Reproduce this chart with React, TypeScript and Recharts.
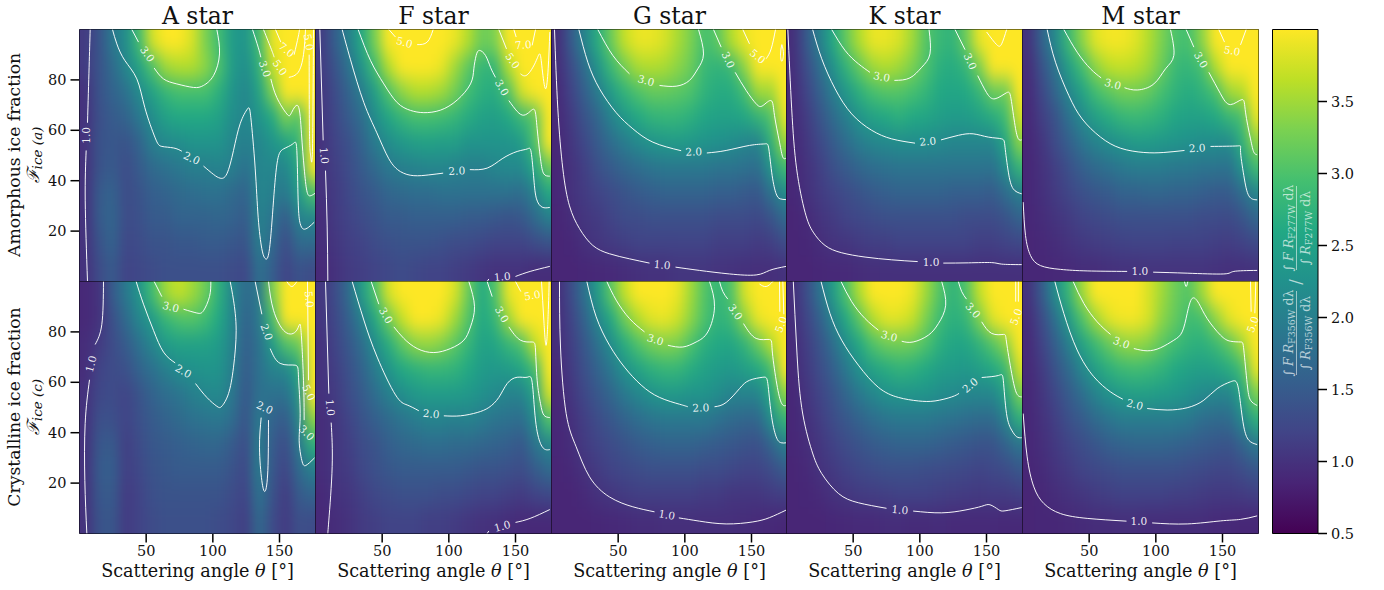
import { ReferenceArea, Scatter, ScatterChart, XAxis, YAxis } from "recharts";

// heat grid centres
const thetaCenters = [5, 15, 25, 35, 45, 55, 65, 75, 85, 95, 105, 115, 125, 135, 145, 155, 165, 175];
const fractionCenters = [95, 85, 75, 65, 55, 45, 35, 25, 15, 5];
const xTicks = [50, 100, 150];
const yTicks = [20, 40, 60, 80];
const cbarTicks = [0.5, 1, 1.5, 2, 2.5, 3, 3.5];
const starNames = ["A star", "F star", "G star", "K star", "M star"];

const heatA1 = [
  [1.1, 1.4, 1.9, 2.2, 2.9, 3.8, 4, 4, 3.8, 3.3, 2.9, 2.4, 2.3, 2.9, 3.9, 4, 4, 4],
  [1.1, 1.4, 1.7, 2.1, 2.5, 3.0, 3.5, 3.6, 3.6, 3.4, 3.0, 2.4, 2.2, 2.7, 3.7, 4, 4, 4],
  [1.0, 1.4, 1.6, 1.8, 2.15, 2.5, 2.8, 2.95, 2.95, 2.95, 2.7, 2.3, 2.1, 2.5, 3.3, 4, 4, 4],
  [1.0, 1.35, 1.5, 1.6, 1.9, 2.2, 2.5, 2.6, 2.6, 2.6, 2.5, 2.2, 2.1, 2.3, 2.6, 3.3, 3.0, 4],
  [1.0, 1.4, 1.45, 1.4, 1.6, 2.0, 2.15, 2.2, 2.3, 2.3, 2.3, 2.1, 2.0, 2.1, 2.3, 2.5, 2.8, 4],
  [1.0, 1.4, 1.5, 1.3, 1.5, 1.7, 1.8, 1.9, 2.0, 2.0, 2.05, 2.0, 1.8, 2.1, 2.1, 2.1, 2.6, 4],
  [1.0, 1.5, 1.6, 1.3, 1.4, 1.55, 1.6, 1.7, 1.75, 1.8, 1.8, 1.7, 1.6, 2.1, 2.0, 1.9, 2.4, 3.0],
  [1.0, 1.5, 1.65, 1.3, 1.35, 1.5, 1.5, 1.6, 1.6, 1.6, 1.65, 1.6, 1.5, 2.05, 1.85, 1.5, 2.05, 2.1],
  [1.0, 1.4, 1.6, 1.25, 1.3, 1.4, 1.4, 1.45, 1.45, 1.5, 1.5, 1.45, 1.4, 2.0, 1.7, 1.3, 1.7, 1.7],
  [1.0, 1.3, 1.5, 1.2, 1.25, 1.3, 1.35, 1.35, 1.35, 1.35, 1.35, 1.3, 1.25, 1.8, 1.55, 1.2, 1.4, 1.3],
];
const heatF1 = [
  [1.1, 1.55, 2.0, 2.6, 3.3, 4, 4, 4, 4, 4, 3.9, 3.6, 3.2, 3.3, 4, 4, 4, 4],
  [1.1, 1.4, 1.8, 2.3, 2.9, 3.6, 4, 4, 4, 3.9, 3.5, 3.1, 2.8, 2.8, 3.6, 4, 4, 4],
  [1.05, 1.3, 1.6, 1.95, 2.45, 3.0, 3.4, 3.6, 3.6, 3.5, 3.25, 2.9, 2.7, 2.65, 3.0, 3.8, 4, 4],
  [1.05, 1.25, 1.5, 1.75, 2.2, 2.55, 2.8, 2.95, 2.95, 2.9, 2.8, 2.65, 2.5, 2.45, 2.6, 2.85, 3.1, 4],
  [1.0, 1.2, 1.35, 1.6, 1.95, 2.2, 2.35, 2.45, 2.5, 2.45, 2.45, 2.3, 2.3, 2.3, 2.3, 2.4, 3.0, 4],
  [1.0, 1.15, 1.3, 1.5, 1.7, 1.9, 2.0, 2.05, 2.1, 2.1, 2.05, 2.0, 2.0, 2.1, 2.15, 2.15, 2.6, 3.2],
  [1.0, 1.1, 1.25, 1.4, 1.5, 1.65, 1.7, 1.75, 1.75, 1.8, 1.8, 1.8, 1.8, 1.8, 1.8, 1.75, 2.05, 2.6],
  [0.95, 1.1, 1.2, 1.3, 1.4, 1.5, 1.5, 1.55, 1.55, 1.55, 1.55, 1.5, 1.5, 1.45, 1.4, 1.45, 1.7, 2.0],
  [0.95, 1.05, 1.15, 1.2, 1.3, 1.35, 1.4, 1.4, 1.4, 1.35, 1.3, 1.3, 1.25, 1.2, 1.2, 1.2, 1.3, 1.4],
  [0.9, 1.0, 1.1, 1.15, 1.2, 1.25, 1.3, 1.25, 1.2, 1.2, 1.15, 1.1, 1.05, 1.0, 1.0, 1.0, 0.95, 0.95],
];
const heatG1 = [
  [0.95, 1.5, 2.05, 2.65, 3.2, 3.7, 3.9, 3.9, 3.8, 3.55, 3.3, 2.95, 3.1, 3.6, 3.9, 4, 4, 4],
  [0.95, 1.3, 1.75, 2.3, 2.85, 3.25, 3.55, 3.6, 3.55, 3.4, 3.2, 2.85, 2.75, 2.85, 3.4, 4, 4, 4],
  [0.9, 1.2, 1.55, 1.95, 2.4, 2.75, 3.0, 3.15, 3.15, 3.1, 3.0, 2.75, 2.65, 2.65, 2.9, 3.5, 3.5, 4],
  [0.9, 1.1, 1.4, 1.65, 2.05, 2.35, 2.6, 2.75, 2.8, 2.8, 2.7, 2.55, 2.5, 2.5, 2.55, 2.75, 3.0, 3.9],
  [0.88, 1.05, 1.25, 1.5, 1.75, 1.95, 2.15, 2.3, 2.35, 2.4, 2.35, 2.3, 2.25, 2.2, 2.1, 2.05, 2.7, 3.5],
  [0.88, 1.0, 1.15, 1.35, 1.5, 1.65, 1.75, 1.85, 1.9, 1.9, 1.9, 1.9, 1.85, 1.85, 1.8, 1.75, 2.3, 2.9],
  [0.88, 1.0, 1.1, 1.2, 1.3, 1.4, 1.5, 1.55, 1.6, 1.6, 1.6, 1.6, 1.55, 1.55, 1.5, 1.45, 1.8, 2.2],
  [0.87, 0.95, 1.05, 1.1, 1.2, 1.3, 1.3, 1.35, 1.35, 1.35, 1.35, 1.35, 1.3, 1.3, 1.3, 1.25, 1.4, 1.7],
  [0.87, 0.88, 0.98, 1.05, 1.1, 1.15, 1.2, 1.2, 1.2, 1.2, 1.2, 1.2, 1.15, 1.15, 1.15, 1.1, 1.15, 1.3],
  [0.87, 0.87, 0.88, 0.9, 0.92, 0.95, 0.98, 1.0, 1.0, 1.05, 1.05, 1.05, 1.02, 1.0, 0.98, 0.97, 0.97, 1.0],
];
const heatK1 = [
  [0.95, 1.45, 2.0, 2.6, 3.15, 3.6, 3.9, 3.9, 3.8, 3.5, 3.05, 2.85, 2.75, 3.2, 3.9, 4, 4, 4],
  [0.95, 1.3, 1.75, 2.25, 2.75, 3.15, 3.5, 3.6, 3.5, 3.3, 3.0, 2.7, 2.65, 2.8, 3.3, 4, 4, 4],
  [0.92, 1.2, 1.55, 1.95, 2.35, 2.7, 2.95, 3.05, 3.05, 2.95, 2.8, 2.6, 2.55, 2.6, 2.8, 3.2, 3.2, 4],
  [0.9, 1.1, 1.4, 1.7, 2.0, 2.3, 2.5, 2.6, 2.7, 2.6, 2.55, 2.45, 2.4, 2.4, 2.5, 2.65, 2.9, 3.8],
  [0.88, 1.05, 1.25, 1.5, 1.75, 1.95, 2.1, 2.15, 2.2, 2.2, 2.2, 2.15, 2.1, 2.1, 2.1, 2.1, 2.6, 3.4],
  [0.88, 1.0, 1.15, 1.35, 1.5, 1.65, 1.75, 1.8, 1.85, 1.85, 1.85, 1.85, 1.85, 1.85, 1.85, 1.8, 2.2, 2.8],
  [0.88, 0.98, 1.1, 1.2, 1.3, 1.4, 1.5, 1.55, 1.6, 1.6, 1.6, 1.6, 1.55, 1.55, 1.55, 1.5, 1.75, 2.0],
  [0.87, 0.92, 1.02, 1.1, 1.2, 1.25, 1.3, 1.35, 1.35, 1.35, 1.35, 1.35, 1.35, 1.3, 1.3, 1.3, 1.4, 1.6],
  [0.87, 0.88, 0.95, 1.02, 1.05, 1.1, 1.15, 1.15, 1.2, 1.2, 1.2, 1.2, 1.2, 1.2, 1.15, 1.15, 1.2, 1.25],
  [0.87, 0.87, 0.88, 0.9, 0.92, 0.95, 0.97, 0.98, 0.98, 0.98, 0.98, 0.98, 0.98, 0.98, 0.98, 0.98, 0.98, 0.98],
];
const heatM1 = [
  [1.0, 1.6, 2.15, 2.85, 3.4, 3.85, 3.95, 3.95, 3.85, 3.6, 3.3, 3.0, 2.95, 3.4, 4, 4, 4, 4],
  [0.95, 1.4, 1.85, 2.45, 2.9, 3.4, 3.65, 3.7, 3.65, 3.5, 3.2, 2.85, 2.8, 2.95, 3.6, 4, 4, 4],
  [0.92, 1.25, 1.65, 2.1, 2.5, 2.9, 3.1, 3.25, 3.25, 3.15, 2.95, 2.75, 2.65, 2.75, 2.95, 3.5, 3.6, 4],
  [0.9, 1.15, 1.4, 1.8, 2.15, 2.45, 2.65, 2.8, 2.85, 2.8, 2.7, 2.55, 2.5, 2.5, 2.6, 2.8, 2.95, 3.9],
  [0.88, 1.05, 1.3, 1.55, 1.85, 2.05, 2.2, 2.3, 2.4, 2.4, 2.35, 2.3, 2.25, 2.2, 2.2, 2.15, 2.7, 3.4],
  [0.88, 1.0, 1.15, 1.35, 1.55, 1.7, 1.8, 1.9, 1.95, 1.95, 1.95, 1.9, 1.9, 1.85, 1.85, 1.8, 2.25, 2.9],
  [0.88, 0.98, 1.1, 1.22, 1.35, 1.45, 1.5, 1.6, 1.6, 1.65, 1.65, 1.6, 1.6, 1.55, 1.5, 1.5, 1.75, 2.1],
  [0.88, 0.95, 1.03, 1.1, 1.2, 1.25, 1.3, 1.35, 1.35, 1.35, 1.35, 1.35, 1.35, 1.3, 1.3, 1.28, 1.4, 1.65],
  [0.87, 0.9, 0.95, 1.02, 1.08, 1.12, 1.15, 1.18, 1.2, 1.2, 1.2, 1.18, 1.18, 1.18, 1.15, 1.12, 1.18, 1.28],
  [0.88, 0.88, 0.9, 0.92, 0.95, 0.95, 0.98, 1.0, 1.0, 1.02, 1.02, 1.02, 1.02, 1.02, 1.0, 0.98, 0.98, 1.0],
];
const heatA2 = [
  [0.9, 1.0, 1.5, 1.9, 2.3, 2.9, 3.5, 3.7, 3.5, 3.2, 2.7, 2.1, 1.7, 1.9, 3.3, 4, 4, 4],
  [0.9, 1.0, 1.35, 1.7, 2.1, 2.4, 2.8, 3.0, 3.05, 2.9, 2.6, 2.1, 1.6, 1.9, 2.9, 4, 4, 4],
  [0.95, 1.1, 1.3, 1.5, 1.8, 2.1, 2.4, 2.5, 2.5, 2.5, 2.4, 2.05, 1.55, 1.8, 2.4, 3.0, 3.2, 4],
  [0.95, 1.2, 1.3, 1.35, 1.6, 1.8, 2.0, 2.2, 2.25, 2.3, 2.3, 2.0, 1.5, 1.8, 2.05, 2.1, 2.6, 4],
  [1.0, 1.25, 1.3, 1.2, 1.4, 1.6, 1.75, 1.85, 2.0, 2.1, 2.15, 1.9, 1.45, 1.8, 1.8, 1.8, 2.3, 4],
  [1.0, 1.35, 1.35, 1.2, 1.35, 1.5, 1.6, 1.7, 1.8, 1.85, 1.9, 1.75, 1.4, 1.95, 1.6, 1.5, 2.1, 3.4],
  [1.0, 1.45, 1.5, 1.15, 1.3, 1.45, 1.5, 1.55, 1.6, 1.65, 1.65, 1.5, 1.3, 2.0, 1.5, 1.3, 1.9, 2.7],
  [1.0, 1.5, 1.55, 1.15, 1.25, 1.4, 1.45, 1.5, 1.5, 1.5, 1.5, 1.4, 1.25, 2.0, 1.45, 1.2, 1.7, 2.0],
  [1.0, 1.45, 1.5, 1.1, 1.2, 1.35, 1.4, 1.4, 1.4, 1.4, 1.4, 1.3, 1.2, 1.85, 1.4, 1.1, 1.5, 1.6],
  [1.0, 1.4, 1.45, 1.1, 1.2, 1.3, 1.35, 1.35, 1.35, 1.35, 1.3, 1.25, 1.15, 1.7, 1.3, 1.1, 1.35, 1.3],
];
const heatF2 = [
  [1.05, 1.3, 1.7, 2.4, 3.0, 3.8, 4, 4, 4, 4, 3.8, 3.2, 2.6, 3.0, 3.9, 4, 4, 4],
  [1.05, 1.25, 1.55, 2.0, 2.6, 3.2, 3.7, 4, 4, 3.9, 3.5, 3.05, 2.6, 2.8, 3.5, 4, 4, 4],
  [1.0, 1.2, 1.45, 1.75, 2.2, 2.65, 3.1, 3.4, 3.45, 3.35, 3.1, 2.8, 2.5, 2.55, 2.8, 3.0, 3.7, 4],
  [1.0, 1.15, 1.35, 1.6, 1.95, 2.3, 2.6, 2.7, 2.8, 2.8, 2.75, 2.6, 2.4, 2.35, 2.4, 2.55, 2.9, 4],
  [1.0, 1.1, 1.3, 1.5, 1.75, 2.0, 2.2, 2.35, 2.4, 2.4, 2.4, 2.35, 2.25, 2.15, 2.05, 2.05, 2.5, 3.8],
  [0.95, 1.05, 1.2, 1.4, 1.55, 1.7, 1.85, 1.95, 2.05, 2.05, 2.0, 2.05, 1.95, 1.85, 1.8, 1.75, 2.2, 3.0],
  [0.95, 1.05, 1.15, 1.3, 1.4, 1.55, 1.65, 1.7, 1.75, 1.75, 1.7, 1.7, 1.65, 1.6, 1.55, 1.45, 1.85, 2.1],
  [0.95, 1.05, 1.1, 1.25, 1.35, 1.45, 1.5, 1.5, 1.5, 1.5, 1.5, 1.45, 1.4, 1.4, 1.35, 1.3, 1.5, 1.7],
  [0.9, 1.0, 1.05, 1.15, 1.25, 1.3, 1.35, 1.35, 1.35, 1.3, 1.3, 1.25, 1.2, 1.2, 1.15, 1.1, 1.2, 1.25],
  [0.9, 0.95, 1.0, 1.1, 1.15, 1.2, 1.2, 1.2, 1.15, 1.15, 1.1, 1.05, 1.0, 0.98, 0.95, 0.92, 0.9, 0.9],
];
const heatG2 = [
  [0.95, 1.3, 1.8, 2.4, 3.1, 3.7, 4, 4, 4, 3.9, 3.5, 3.05, 2.8, 3.0, 3.8, 4, 4, 4],
  [0.95, 1.2, 1.6, 2.1, 2.6, 3.2, 3.6, 3.85, 3.9, 3.75, 3.4, 3.0, 2.75, 2.85, 3.4, 3.9, 4, 4],
  [0.95, 1.15, 1.45, 1.8, 2.2, 2.65, 3.0, 3.25, 3.35, 3.3, 3.0, 2.7, 2.6, 2.55, 2.75, 3.15, 3.6, 4],
  [0.9, 1.1, 1.35, 1.6, 1.9, 2.25, 2.5, 2.7, 2.8, 2.8, 2.65, 2.5, 2.4, 2.35, 2.45, 2.6, 2.9, 4],
  [0.88, 1.05, 1.25, 1.45, 1.65, 1.9, 2.1, 2.25, 2.35, 2.35, 2.3, 2.3, 2.2, 2.05, 2.05, 2.05, 2.6, 3.4],
  [0.88, 0.98, 1.15, 1.3, 1.45, 1.6, 1.75, 1.85, 1.9, 1.9, 1.9, 1.9, 1.8, 1.7, 1.65, 1.65, 2.2, 2.8],
  [0.88, 0.95, 1.1, 1.2, 1.3, 1.4, 1.5, 1.55, 1.6, 1.6, 1.6, 1.55, 1.5, 1.45, 1.4, 1.35, 1.6, 2.0],
  [0.87, 0.9, 1.0, 1.1, 1.2, 1.25, 1.3, 1.35, 1.35, 1.35, 1.35, 1.3, 1.3, 1.25, 1.2, 1.2, 1.3, 1.5],
  [0.87, 0.87, 0.92, 1.0, 1.05, 1.1, 1.15, 1.15, 1.15, 1.15, 1.15, 1.1, 1.1, 1.05, 1.05, 1.05, 1.1, 1.15],
  [0.87, 0.87, 0.87, 0.88, 0.9, 0.92, 0.95, 0.95, 0.97, 0.97, 0.97, 0.97, 0.97, 0.97, 0.95, 0.92, 0.9, 0.88],
];
const heatK2 = [
  [0.95, 1.3, 1.8, 2.4, 3.0, 3.6, 4, 4, 4, 3.9, 3.5, 3.05, 2.75, 3.0, 3.7, 4, 4, 4],
  [0.95, 1.2, 1.55, 2.05, 2.6, 3.1, 3.6, 3.85, 3.85, 3.7, 3.3, 2.9, 2.7, 2.8, 3.3, 3.85, 4, 4],
  [0.92, 1.12, 1.4, 1.75, 2.2, 2.6, 3.0, 3.2, 3.25, 3.2, 3.0, 2.7, 2.55, 2.55, 2.75, 3.05, 3.4, 4],
  [0.9, 1.08, 1.3, 1.55, 1.9, 2.25, 2.5, 2.65, 2.75, 2.7, 2.6, 2.45, 2.4, 2.35, 2.45, 2.6, 2.85, 3.8],
  [0.88, 1.02, 1.2, 1.4, 1.65, 1.9, 2.1, 2.25, 2.3, 2.3, 2.3, 2.2, 2.15, 2.1, 2.1, 2.1, 2.5, 3.3],
  [0.88, 0.98, 1.12, 1.3, 1.45, 1.6, 1.75, 1.85, 1.9, 1.9, 1.9, 1.85, 1.8, 1.75, 1.7, 1.7, 2.05, 2.7],
  [0.88, 0.95, 1.05, 1.18, 1.3, 1.4, 1.5, 1.55, 1.6, 1.6, 1.6, 1.55, 1.5, 1.45, 1.4, 1.4, 1.6, 1.85],
  [0.87, 0.9, 1.0, 1.08, 1.18, 1.25, 1.3, 1.35, 1.35, 1.35, 1.32, 1.3, 1.28, 1.25, 1.2, 1.25, 1.3, 1.45],
  [0.87, 0.88, 0.92, 1.0, 1.05, 1.1, 1.12, 1.15, 1.18, 1.18, 1.18, 1.15, 1.12, 1.1, 1.08, 1.1, 1.1, 1.15],
  [0.87, 0.87, 0.87, 0.88, 0.9, 0.92, 0.92, 0.95, 0.95, 0.93, 0.93, 0.95, 0.92, 0.92, 0.92, 0.92, 0.9, 0.9],
];
const heatM2 = [
  [1.0, 1.5, 2.2, 2.8, 3.5, 4, 4, 4, 4, 3.8, 3.5, 3.2, 3.05, 3.5, 4, 4, 4, 4],
  [0.95, 1.3, 1.8, 2.4, 3.0, 3.5, 3.85, 3.95, 3.95, 3.8, 3.4, 3.15, 2.9, 2.95, 3.4, 3.85, 4, 4],
  [0.92, 1.2, 1.55, 2.0, 2.5, 2.85, 3.15, 3.4, 3.45, 3.35, 3.1, 2.9, 2.75, 2.7, 2.85, 3.1, 3.5, 4],
  [0.9, 1.1, 1.4, 1.7, 2.1, 2.45, 2.7, 2.85, 2.9, 2.85, 2.75, 2.6, 2.5, 2.45, 2.5, 2.65, 2.9, 3.9],
  [0.88, 1.05, 1.25, 1.5, 1.75, 2.05, 2.25, 2.4, 2.45, 2.45, 2.4, 2.35, 2.25, 2.15, 2.1, 2.05, 2.55, 3.3],
  [0.88, 1.0, 1.15, 1.35, 1.5, 1.7, 1.85, 1.95, 1.95, 1.95, 1.95, 1.95, 1.9, 1.75, 1.7, 1.7, 2.1, 2.7],
  [0.88, 0.97, 1.08, 1.2, 1.32, 1.42, 1.55, 1.6, 1.65, 1.65, 1.65, 1.6, 1.55, 1.5, 1.45, 1.4, 1.6, 1.9],
  [0.87, 0.93, 1.02, 1.1, 1.2, 1.25, 1.3, 1.35, 1.35, 1.35, 1.35, 1.35, 1.3, 1.28, 1.22, 1.22, 1.3, 1.45],
  [0.87, 0.89, 0.95, 1.0, 1.05, 1.1, 1.15, 1.18, 1.18, 1.18, 1.18, 1.15, 1.15, 1.1, 1.08, 1.08, 1.1, 1.15],
  [0.87, 0.88, 0.88, 0.9, 0.93, 0.95, 0.95, 0.97, 0.97, 0.95, 0.95, 0.95, 0.95, 0.95, 0.92, 0.9, 0.88, 0.88],
];

// contour pieces as [theta, fraction], broken where a label sits
const linesA1 = [
  [[8, 100], [7.2, 85], [6, 63]],
  [[5, 52], [4.3, 32], [6, 0]],
  [[24.75, 100], [28, 94.3], [34, 87.7], [43, 80.4], [49, 69], [56.75, 57], [61.75, 53.6], [70.5, 53], [76.75, 51.7]],
  [[93, 45.8], [100.5, 42.5], [105.5, 41], [110.5, 42.7], [115.5, 52], [120.5, 62.6], [126, 68.5], [128.5, 65], [131.75, 45], [134, 25.5], [136.75, 13], [139.5, 9], [142.5, 13], [145.5, 32], [148.5, 48], [153, 52.6], [160, 54.6], [163, 52], [164, 32], [165.5, 23], [168, 20.8], [171.75, 21.5], [176, 23.5]],
  [[39.25, 100], [44.25, 95]],
  [[56, 84.7], [63, 80.4], [73, 78.4], [85.5, 77], [93, 77.8], [100.5, 81.7], [105, 90.3], [103, 100]],
  [[129.75, 100], [134, 93], [136, 89]],
  [[143.5, 80.4], [148, 73], [155.5, 66.5], [159, 67], [164, 69.6], [166.5, 58.6], [168.5, 45], [170.5, 36], [173, 34], [176.7, 35]],
  [[138, 100], [144, 92], [146, 89]],
  [[157, 81], [164, 83], [168, 90], [169.5, 100]],
  [[147, 100], [151, 95]],
  [[161, 90], [164, 97], [165, 100]],
  [[172.25, 90], [172.5, 58.6], [173.5, 49.3], [174.75, 53], [175.5, 100]],
];
const labelsA1 = [[4.75, 58, "1.0", -90], [84.25, 49, "2.0", 25], [51, 90.3, "3.0", 55], [139.25, 84.4, "3.0", 70], [150.5, 85, "5.0", 55], [155.5, 92, "7.0", 40], [172, 95, "5.0", 80]];

const linesF1 = [
  [[3.25, 100], [5.75, 56]],
  [[7.5, 44], [8.75, 22], [9.25, 0]],
  [[128.75, 0], [130, 1]],
  [[150, 2], [161, 4], [175.75, 6]],
  [[20, 100], [26.25, 88], [36.25, 71], [46, 59], [55, 48.7], [63.75, 43.6], [73.75, 42], [85, 42.3], [95.75, 43]],
  [[115.75, 44.4], [128.75, 45], [140, 48.7], [151.25, 51.6], [158.75, 52.6], [161.75, 51.3], [163.75, 40.7], [165.75, 32.8], [170, 29.5], [175.75, 29.4]],
  [[32, 100], [41.25, 87.7], [51.25, 78.4], [61.25, 71], [71.25, 67.9], [81.25, 67], [93.75, 68], [106.25, 72], [116.25, 78.4], [118.75, 84.4], [120.5, 89.7], [123, 91.7], [127.5, 89.7], [131.25, 85], [135, 81]],
  [[145, 71.8], [151.25, 67.5], [156.25, 66], [161, 67.5], [164.5, 67.9], [166.25, 60.6], [168.75, 48.7], [171.25, 42.7], [175.75, 41.8]],
  [[55, 100], [60, 97]],
  [[76.25, 94], [83.75, 95], [88.25, 100]],
  [[137.5, 100], [143.25, 92.3]],
  [[153.75, 82.4], [158.75, 82], [165, 87], [168.25, 90.3], [170, 84.4], [172.5, 76.5], [174.5, 84.4], [175.75, 99]],
  [[148.75, 100], [150.5, 97]],
  [[162.5, 93.7], [165, 100]],
];
const labelsF1 = [[6.75, 50, "1.0", 85], [140, 2, "1.0", -5], [106, 44, "2.0", -2], [140, 77, "3.0", 60], [66.75, 95, "5.0", 15], [148, 87.7, "5.0", 55], [155.75, 94, "7.0", -5]];

const linesG1 = [
  [[2.25, 100], [4.75, 68.5], [8.5, 44.7], [13.5, 30], [21, 21], [31, 14.3], [43.5, 11], [58.5, 9], [73.5, 7.3]],
  [[93, 5.7], [111, 4.4], [133.5, 3], [153.5, 2.6], [163.5, 4.4], [176, 6]],
  [[20.5, 100], [27.25, 87], [36, 76.5], [48.5, 67], [61, 60.6], [76, 55.3], [97.25, 51.9]],
  [[116.5, 51], [131, 52], [148.5, 54], [159.75, 54.6], [163, 52.6], [165.5, 42], [168.5, 34.8], [171.5, 32.8], [176, 32.5]],
  [[34.75, 100], [46, 89.7], [58.5, 82.4]],
  [[81, 77.8], [93.5, 77.5], [103.5, 79.8], [109.75, 84.4], [114, 90.3], [110.25, 100]],
  [[121.5, 100], [127.25, 93]],
  [[137.75, 83], [146, 75.8], [153.5, 70.5], [158.5, 69.8], [164.75, 71.8], [167.25, 65.9], [171, 55.3], [173.5, 49.3], [176, 49]],
  [[143.5, 100], [148.5, 94.3]],
  [[161, 88.4], [164.75, 92.3], [168, 100]],
  [[172.75, 94], [171.75, 90.3], [172.75, 87.4], [174, 90.3], [172.75, 94]],
];
const labelsG1 = [[83, 6.7, "1.0", 5], [106.75, 51.6, "2.0", -2], [71, 79.8, "3.0", 15], [132.75, 88, "3.0", 65], [154.75, 89.4, "5.0", 40]];

const linesK1 = [
  [[1, 100], [3.9, 68.5], [7.6, 44.7], [13.9, 27.5], [20, 19.6], [28.9, 14.3], [41.4, 11.4], [58.9, 9.7], [78.9, 8.6], [98.4, 7.9]],
  [[117.6, 7.3], [136.4, 7.4], [153.9, 7.5], [161.4, 6.9], [176.4, 6.7]],
  [[19.6, 100], [26.4, 88.4], [36.4, 76.5], [48.9, 66.5], [63.9, 60], [78.9, 56.6], [96.4, 54.9]],
  [[115.9, 56.2], [128.9, 58], [140, 58.6], [151.4, 57.3], [161.4, 56.6], [163.9, 53.3], [166.4, 43.4], [170, 36.8], [176.4, 34.8]],
  [[33.9, 100], [43.9, 91.7], [53.9, 86.4], [62.6, 83]],
  [[80.9, 79.8], [92.6, 80.8], [101.4, 85], [107.6, 90.3], [106.9, 100]],
  [[126.4, 100], [133.9, 92]],
  [[143.4, 81.7], [150, 75], [156.4, 72.5], [165, 74.9], [168.4, 72.5], [171.4, 61.9], [173.9, 56.6], [176.4, 56.2]],
  [[150.1, 99], [157.6, 94], [161.4, 94.3], [165.1, 100]],
];
const labelsK1 = [[108.4, 7.9, "1.0", 0], [105.9, 55.7, "2.0", -5], [71.4, 81.3, "3.0", 10], [138, 87.4, "3.0", 65]];

const linesM1 = [
  [[0.5, 31.5], [2.25, 18.3], [6, 10.3], [13.5, 6.3], [28.5, 4.8], [48.5, 4.2], [78.5, 4]],
  [[98, 3.7], [123.5, 3.3], [151, 3], [158.5, 4], [176, 4.4]],
  [[18.5, 100], [24.75, 87], [34.75, 73.8], [44.75, 64.5], [58.5, 57.3], [73.5, 52.9], [91, 51.2], [106, 51.2], [121.5, 52]],
  [[141, 53.6], [161, 53.8], [163.5, 52], [166, 42], [169.75, 34], [176, 32.4]],
  [[31, 100], [41, 91], [51, 84.4], [59, 80.8]],
  [[76.5, 76.9], [86, 76], [98.5, 78.4], [107.25, 84.4], [113.5, 89.7], [111, 100]],
  [[122.75, 100], [128.5, 93]],
  [[139.75, 83], [148.5, 74.5], [156, 70.2], [164.75, 72.2], [167.25, 67.2], [171, 56.6], [173.5, 51.3], [176, 50.3]],
  [[147.25, 100], [151.5, 95]],
  [[163.5, 93.9], [167.75, 100]],
];
const labelsM1 = [[88, 4, "1.0", 0], [131, 53, "2.0", -3], [67.75, 78.4, "3.0", 15], [134, 88, "3.0", 60], [157.25, 91.7, "5.0", 10]];

const linesA2 = [
  [[18, 100], [16.75, 83], [11.75, 75]],
  [[7.5, 61], [4.25, 43.7], [4, 21], [5.5, 0]],
  [[42.5, 100], [48, 91], [55.5, 80.6], [63, 72], [71.75, 67.7]],
  [[87, 59.5], [95.5, 54], [103, 50.5], [106.75, 50.5], [111.75, 55.5], [115.5, 66], [117.5, 80.6], [115.5, 92.6], [113, 100]],
  [[56, 100], [61.75, 94]],
  [[78, 89], [88, 87.5], [93, 88.4], [97.5, 94], [98.5, 100]],
  [[131.75, 100], [136.75, 87]],
  [[143, 73.4], [150.5, 67.5], [161.75, 66.8], [164.25, 62], [165.5, 47.6], [164.75, 37], [166.75, 29], [169.75, 27], [176.25, 30]],
  [[136.25, 46], [135, 34], [136.75, 21], [139.25, 16.8], [141.25, 25], [141.75, 45]],
  [[141.75, 100], [145.5, 88.6], [154.25, 80], [163, 80.7], [166, 81.3], [168, 60.8], [168.5, 45]],
  [[155.5, 100], [159.25, 98], [163, 100]],
  [[171, 100], [171.75, 60.8]],
];
const labelsA2 = [[8.5, 67.3, "1.0", -75], [78, 64.5, "2.0", 30], [68.5, 90, "3.0", 15], [140.5, 80, "2.0", 70], [139, 50, "2.0", 25], [170.5, 40, "3.0", 45], [172, 56, "5.0", 65], [172.5, 93, "5.0", 85]];

const linesF2 = [
  [[7.5, 100], [10, 55.5]],
  [[11.75, 44], [12.5, 26.5], [10, 5.3], [9.25, 0]],
  [[128.75, 0], [130, 1]],
  [[150, 4.4], [161, 6], [175.75, 9.5]],
  [[27.5, 100], [36.25, 84.7], [46.25, 70], [60, 55], [68.75, 51], [77.5, 48.7]],
  [[96.25, 46.7], [108.75, 46.7], [121.25, 48], [130, 50], [137.5, 54], [143.75, 59.5], [151.25, 62], [158.75, 62], [162.5, 60], [165, 45], [168.75, 35.7], [172.5, 33.3], [175.75, 33.3]],
  [[41.75, 100], [47.5, 91]],
  [[58.75, 82], [66.25, 77.4], [76.25, 73.4], [88.75, 71.8], [101.25, 73.4], [111.25, 76.7], [116.25, 82], [119.25, 90], [115, 100]],
  [[128.75, 100], [132.5, 94]],
  [[145, 82], [153.75, 76.7], [162.5, 76], [165, 72.8], [166.25, 60.8], [168.75, 51.6], [171.25, 47], [175.75, 46]],
  [[150, 100], [154, 96]],
  [[169.5, 100], [171.25, 84.7], [173, 74.7], [174.5, 87], [175.25, 100]],
];
const labelsF2 = [[11.25, 50, "1.0", 85], [140, 3, "1.0", -15], [86.75, 47.6, "2.0", 5], [53, 86.6, "3.0", 60], [140, 87, "3.0", 60], [162.5, 94.6, "5.0", -10]];

const linesG2 = [
  [[6, 100], [6.75, 74], [11, 47.6], [18.5, 34.4], [28.5, 22.5], [43.5, 14.5], [61, 10.6], [77.25, 8.6]],
  [[95.5, 6.2], [111, 4.9], [131, 3.8], [151, 4.6], [163.5, 6.3], [176, 9.3]],
  [[26.5, 100], [33.5, 86], [43.5, 74.7], [54.75, 66], [67.25, 58.9], [81, 54], [96, 51.3], [102.25, 50.3]],
  [[122.25, 50.3], [131, 52], [141, 57.5], [148.5, 60.8], [158.5, 62], [162.25, 59.5], [164.75, 47.6], [168.5, 38.4], [172.25, 36], [176, 36]],
  [[41.5, 100], [48.5, 92.6], [58.5, 85.3], [69.75, 80]],
  [[87.25, 74.7], [98.5, 74], [108.5, 76], [117.25, 80], [122.25, 90], [118.5, 100]],
  [[126, 100], [128.5, 96], [132.25, 93]],
  [[144, 83.3], [153.5, 77.4], [163.5, 77], [165.5, 72.8], [168.5, 60.8], [172.25, 52], [176, 50.8]],
  [[156, 99], [161, 98], [166, 100]],
  [[171, 100], [171.25, 88]],
  [[173.5, 100], [174.25, 87]],
];
const labelsG2 = [[86.5, 7.5, "1.0", 10], [112, 50, "2.0", -2], [78, 77, "3.0", 18], [138, 88, "3.0", 55], [172, 83, "5.0", -70]];

const linesK2 = [
  [[5.1, 100], [7.6, 74], [11.4, 50], [18.9, 33], [26.4, 23.8], [38.9, 15.9], [53.9, 12.2], [75, 10]],
  [[95, 8.9], [116.4, 8.2], [133.9, 9.3], [146.4, 10.8], [152.6, 11.4], [158.9, 9.5], [163.9, 9], [176.4, 10.3]],
  [[25.9, 100], [32.6, 87.3], [41.4, 76.7], [53.9, 66.8], [68.9, 58], [83.9, 54], [98.9, 52.6], [111.4, 52.6], [123.9, 54.2], [129.4, 55.6]],
  [[146.4, 61.9], [158.9, 62.7], [162.6, 60.8], [165, 47.6], [168.9, 41], [172.6, 38.4], [176.4, 38]],
  [[40.9, 100], [48.9, 92], [58.9, 85.3], [68.9, 80.7]],
  [[86.4, 76.3], [95, 76], [106.4, 78.7], [113.9, 83.3], [119.4, 90.6], [116.4, 100]],
  [[128.9, 100], [131.4, 96], [135, 93]],
  [[146.4, 84], [153.9, 79.4], [162.6, 79], [165, 76], [168.9, 63.5], [172.6, 55.6], [176.4, 54.2]],
  [[171.9, 100], [171.9, 92]],
  [[173.9, 100], [173.9, 92]],
];
const labelsK2 = [[85, 9.5, "1.0", 5], [137.6, 58.9, "2.0", -40], [77.1, 78.4, "3.0", 15], [140, 88.6, "3.0", 50], [172, 86, "5.0", -70]];

const linesM2 = [
  [[0.5, 47.6], [3.5, 30.4], [8.5, 18.5], [16, 11.9], [28.5, 7.9], [48.5, 6], [78, 4.9]],
  [[97.25, 4.2], [123.5, 3.8], [148.5, 5], [163.5, 5.6], [176, 7]],
  [[24.25, 100], [31, 87.3], [41, 72.8], [53.5, 62.2], [66, 56.2], [75.25, 53.3]],
  [[93.5, 49.6], [108.5, 49], [123.5, 49.9], [136, 52.9], [146, 57.5], [156, 60.2], [161, 59.5], [163.5, 51.6], [166, 42.3], [169.75, 37], [176, 35.3]],
  [[38, 100], [46, 91.3], [56, 84], [66, 79]],
  [[83.5, 73.4], [93.5, 72.5], [103.5, 73.7], [113.5, 76.7], [119.75, 80], [123.5, 87.3], [127.25, 93.3], [132.25, 91.3], [138.5, 85.3], [148.5, 78.7], [156, 76.3], [163.5, 76], [166, 72.8], [168.5, 59.5], [171, 52.9], [176, 50.8]],
  [[121.5, 100], [122.75, 98], [124, 100]],
  [[171, 100], [171.5, 88]],
  [[174.25, 87.4], [175, 100]],
];
const labelsM2 = [[87.25, 4.9, "1.0", 0], [84.25, 51.3, "2.0", 15], [74.25, 75.8, "3.0", 20], [172.5, 83, "5.0", -70]];

const viridis = ["#440154", "#482475", "#414487", "#355f8d", "#2a788e", "#21918c", "#22a884", "#44bf70", "#7ad151", "#bddf26", "#fde725"];
const SERIF = "'DejaVu Serif', serif";
const plotLefts = [79.5, 315.5, 551.5, 786.5, 1022.5];
const plotTops = [29.5, 281.5];

const hexRgb = (h: string) => [1, 3, 5].map((i) => parseInt(h.slice(i, i + 2), 16));

const colorOf = (v: number) => {
  const t = Math.min(1, Math.max(0, (v - 0.5) / 3.5)) * (viridis.length - 1);
  const i = Math.min(viridis.length - 2, Math.floor(t));
  const a = hexRgb(viridis[i]);
  const b = hexRgb(viridis[i + 1]);
  const c = a.map((p, k) => Math.round(p + (b[k] - p) * (t - i)));
  return `rgb(${c[0]},${c[1]},${c[2]})`;
};

const toCells = (grid: number[][]) =>
  grid.flatMap((row, r) => row.map((v, c) => ({ x: thetaCenters[c], y: fractionCenters[r], v })));

const HeatCell = (props: any) => {
  const { cx, cy, payload } = props;
  const hw = 6.67 + 0.6;
  const hh = 12.6 + 0.6;
  // border cells run past the frame so the blur does not fade at the edge
  const left = payload.x === 5 ? cx - 40 : cx - hw;
  const right = payload.x === 175 ? cx + 40 : cx + hw;
  const top = payload.y === 95 ? cy - 50 : cy - hh;
  const bottom = payload.y === 5 ? cy + 50 : cy + hh;
  return <rect x={left} y={top} width={right - left} height={bottom - top} fill={colorOf(payload.v)} />;
};

const ContourLabel = (props: any) => {
  const { cx, cy, payload } = props;
  return (
    <text
      x={cx}
      y={cy}
      transform={`rotate(${payload.angle} ${cx} ${cy})`}
      textAnchor="middle"
      dominantBaseline="central"
      fontFamily={SERIF}
      fontSize={10.5}
      fill="#fff"
      fillOpacity={0.92}
    >
      {payload.text}
    </text>
  );
};

const NoDot = () => <g />;

const Panel = ({ heat, lines, labels, col, row }: any) => {
  const yw = col === 0 ? 50 : 0;
  const xh = row === 1 ? 30 : 0;
  const pad = 1.5;
  return (
    <div style={{ position: "absolute", left: plotLefts[col] - pad - yw, top: plotTops[row] - pad }}>
      <ScatterChart
        width={236 + yw + pad * 2}
        height={252 + xh + pad * 2}
        margin={{ top: pad, right: pad, bottom: pad, left: pad }}
      >
        <XAxis
          type="number"
          dataKey="x"
          domain={[0, 177]}
          ticks={xTicks}
          allowDataOverflow
          hide={row === 0}
          height={xh}
          axisLine={false}
          tickSize={9}
          tickMargin={3}
          tickLine={{ stroke: "#000", strokeWidth: 1.5 }}
          tick={{ fontFamily: SERIF, fontSize: 14.5, fill: "#111" }}
        />
        <YAxis
          type="number"
          dataKey="y"
          domain={[0, 100]}
          ticks={yTicks}
          allowDataOverflow
          hide={col !== 0}
          width={yw}
          axisLine={false}
          tickSize={9}
          tickMargin={4}
          tickLine={{ stroke: "#000", strokeWidth: 1.5 }}
          tick={{ fontFamily: SERIF, fontSize: 14.5, fill: "#111" }}
        />
        <Scatter className="heat" data={toCells(heat)} shape={HeatCell} isAnimationActive={false} />
        {lines.map((pts: number[][], i: number) => (
          <Scatter
            key={i}
            data={pts.map(([x, y]) => ({ x, y }))}
            line={{ stroke: "#fff", strokeWidth: 1, strokeOpacity: 0.95 }}
            lineJointType="natural"
            shape={NoDot}
            isAnimationActive={false}
          />
        ))}
        <Scatter
          data={labels.map(([x, y, text, angle]: any[]) => ({ x, y, text, angle }))}
          shape={ContourLabel}
          isAnimationActive={false}
        />
        <ReferenceArea x1={0} x2={177} y1={0} y2={100} fillOpacity={0} stroke="#000" strokeWidth={1} />
      </ScatterChart>
    </div>
  );
};

const Colorbar = () => (
  <div style={{ position: "absolute", left: 1271, top: 28 }}>
    <ScatterChart width={100} height={514} margin={{ top: 1.5, right: 1, bottom: 8.5, left: 1.5 }}>
      <defs>
        <linearGradient id="viridisBar" x1="0" y1="1" x2="0" y2="0">
          {viridis.map((c, i) => (
            <stop key={c} offset={i / (viridis.length - 1)} stopColor={c} />
          ))}
        </linearGradient>
      </defs>
      <XAxis type="number" dataKey="x" domain={[0, 1]} hide />
      <YAxis
        type="number"
        dataKey="y"
        orientation="right"
        domain={[0.5, 4]}
        ticks={cbarTicks}
        interval={0}
        width={52}
        axisLine={false}
        tickSize={9}
        tickMargin={4}
        tickLine={{ stroke: "#000", strokeWidth: 1.5 }}
        tick={{ fontFamily: SERIF, fontSize: 14.5, fill: "#111" }}
        tickFormatter={(v: number) => v.toFixed(1)}
      />
      <Scatter data={cbarTicks.map((y) => ({ x: 0.5, y }))} shape={NoDot} isAnimationActive={false} />
      <ReferenceArea x1={0} x2={1} y1={0.5} y2={4} fill="url(#viridisBar)" fillOpacity={1} stroke="#000" strokeWidth={1} />
    </ScatterChart>
  </div>
);

const Frac = ({ x, y, band }: { x: number; y: number; band: string }) => (
  <g transform={`translate(${x} ${y}) rotate(-90)`} fontFamily={SERIF} fill="#fff" fillOpacity={0.68}>
    <text x={0} y={-3.5} textAnchor="middle" fontSize={12.5} fontStyle="italic">
      ∫ F R<tspan dy={2} fontSize={9.5} fontStyle="normal">{band}</tspan>
      <tspan dy={-2} fontStyle="normal"> dλ</tspan>
    </text>
    <rect x={-42} y={0} width={84} height={0.8} />
    <text x={0} y={14} textAnchor="middle" fontSize={12.5} fontStyle="italic">
      ∫ R<tspan dy={2} fontSize={9.5} fontStyle="normal">{band}</tspan>
      <tspan dy={-2} fontStyle="normal"> dλ</tspan>
    </text>
  </g>
);

const Overlay = () => (
  <svg width={1384} height={590} style={{ position: "absolute", left: 0, top: 0, pointerEvents: "none" }}>
    <defs>
      <filter id="heatBlur" x="-10%" y="-10%" width="120%" height="120%" colorInterpolationFilters="sRGB">
        <feGaussianBlur stdDeviation="6 10" />
      </filter>
    </defs>
    {starNames.map((name, i) => (
      <g key={name} fontFamily={SERIF} fill="#111" textAnchor="middle">
        <text x={plotLefts[i] + 118} y={24} fontSize={23.5}>{name}</text>
        <text x={plotLefts[i] + 118} y={577} fontSize={17.6}>
          Scattering angle <tspan fontStyle="italic">θ</tspan> [°]
        </text>
      </g>
    ))}
    <g fontFamily={SERIF} fill="#111" textAnchor="middle">
      <text transform="translate(20 155) rotate(-90)" fontSize={17.2}>Amorphous ice fraction</text>
      <text transform="translate(39 155) rotate(-90)" fontSize={17} fontStyle="italic">
        ℱ<tspan fontSize={13.5} dy={3}>ice (a)</tspan>
      </text>
      <text transform="translate(20 407) rotate(-90)" fontSize={17.2}>Crystalline ice fraction</text>
      <text transform="translate(39 407) rotate(-90)" fontSize={17} fontStyle="italic">
        ℱ<tspan fontSize={13.5} dy={3}>ice (c)</tspan>
      </text>
    </g>
    <Frac x={1296} y={333} band="F356W" />
    <Frac x={1296} y={228} band="F277W" />
    <text transform="translate(1301 282) rotate(-90)" textAnchor="middle" fontFamily={SERIF} fontSize={16} fill="#fff" fillOpacity={0.68}>/</text>
  </svg>
);

const panels = [
  { heat: heatA1, lines: linesA1, labels: labelsA1 },
  { heat: heatF1, lines: linesF1, labels: labelsF1 },
  { heat: heatG1, lines: linesG1, labels: labelsG1 },
  { heat: heatK1, lines: linesK1, labels: labelsK1 },
  { heat: heatM1, lines: linesM1, labels: labelsM1 },
  { heat: heatA2, lines: linesA2, labels: labelsA2 },
  { heat: heatF2, lines: linesF2, labels: labelsF2 },
  { heat: heatG2, lines: linesG2, labels: labelsG2 },
  { heat: heatK2, lines: linesK2, labels: labelsK2 },
  { heat: heatM2, lines: linesM2, labels: labelsM2 },
];

export default function App() {
  return (
    <div style={{ position: "absolute", left: 0, top: 0, width: 1384, height: 590, overflow: "hidden", background: "#fff" }}>
      <style>{`.heat > .recharts-layer { filter: url(#heatBlur); }`}</style>
      {panels.map((p, i) => (
        <Panel key={i} heat={p.heat} lines={p.lines} labels={p.labels} col={i % 5} row={Math.floor(i / 5)} />
      ))}
      <Colorbar />
      <Overlay />
    </div>
  );
}
